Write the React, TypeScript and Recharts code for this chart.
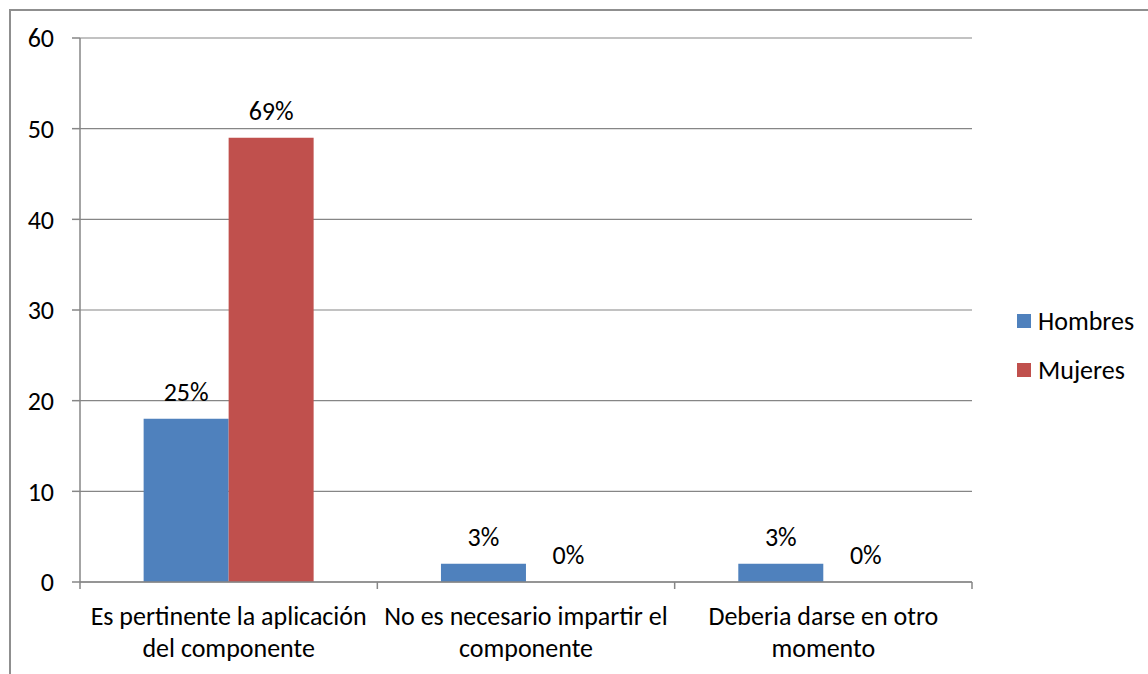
import React from 'react';
import { BarChart, Bar, XAxis, YAxis, CartesianGrid, Legend, LabelList } from 'recharts';

const categories = [
  'Es pertinente la aplicación\ndel componente',
  'No es necesario impartir el\ncomponente',
  'Deberia darse en otro\nmomento',
];
const hombres = [18, 2, 2];
const mujeres = [49, 0, 0];
const hombresPct = ['25%', '3%', '3%'];
const mujeresPct = ['69%', '0%', '0%'];
const yTicks = [0, 10, 20, 30, 40, 50, 60];

const data = categories.map((c, i) => ({
  category: c,
  Hombres: hombres[i],
  Mujeres: mujeres[i],
  hPct: hombresPct[i],
  mPct: mujeresPct[i],
}));

const FONT = 'Carlito, Lato, sans-serif';
const FS = 26;
const AXIS = '#868686';
const BLUE = '#4F81BD';
const RED = '#C0504D';

const CatTick = (props: any) => {
  const { x, y, payload, index } = props;
  const off = payload && typeof payload.offset === 'number' ? payload.offset : 0;
  const lines = String(payload.value).split('\n');
  const last = index === categories.length - 1;
  return (
    <g>
      <line x1={x - off} x2={x - off} y1={y} y2={y + 7} stroke={AXIS} strokeWidth={1.5} />
      {last && <line x1={x + off} x2={x + off} y1={y} y2={y + 7} stroke={AXIS} strokeWidth={1.5} />}
      <text x={x} y={y} textAnchor="middle" fill="#000" fontSize={FS} fontFamily={FONT}>
        {lines.map((l, i) => (
          <tspan key={i} x={x} dy={i === 0 ? 43 : 32}>
            {l}
          </tspan>
        ))}
      </text>
    </g>
  );
};

const PctLabel = (props: any) => {
  const { x, y, width, value } = props;
  return (
    <text x={x + width / 2} y={y - 18} textAnchor="middle" fill="#000" fontSize={FS} fontFamily={FONT}>
      {value}
    </text>
  );
};

const LegendContent = (props: any) => {
  const { payload } = props;
  return (
    <div style={{ fontFamily: FONT, fontSize: FS, color: '#000' }}>
      {(payload || []).map((p: any, i: number) => (
        <div key={i} style={{ display: 'flex', alignItems: 'center', height: 49 }}>
          <div style={{ width: 14, height: 14, background: p.color, marginRight: 7 }} />
          <span>{p.value}</span>
        </div>
      ))}
    </div>
  );
};

export default function App() {
  return (
    <div
      style={{
        position: 'fixed',
        left: 0,
        top: 0,
        width: 1148,
        height: 674,
        background: '#fff',
        overflow: 'hidden',
      }}
    >
      <div
        style={{
          position: 'absolute',
          left: 9,
          top: 9,
          width: 1300,
          height: 800,
          borderLeft: '2px solid #8f8f8f',
          borderTop: '2px solid #8f8f8f',
        }}
      />
      <div style={{ position: 'absolute', left: 0, top: 0 }}>
        <BarChart
          width={1148}
          height={674}
          data={data}
          margin={{ top: 38, right: 45, bottom: 0, left: 0 }}
          barCategoryGap="21.4%"
          barGap={0}
        >
          <CartesianGrid vertical={false} stroke={AXIS} strokeWidth={1.2} />
          <XAxis
            dataKey="category"
            height={92}
            axisLine={{ stroke: AXIS, strokeWidth: 1.5 }}
            tickLine={false}
            tickSize={0}
            tickMargin={0}
            interval={0}
            tick={<CatTick />}
          />
          <YAxis
            width={80}
            domain={[0, 60]}
            ticks={yTicks}
            interval={0}
            axisLine={{ stroke: AXIS, strokeWidth: 1.5 }}
            tickLine={{ stroke: AXIS, strokeWidth: 1.5 }}
            tickSize={8}
            tickMargin={18}
            tick={{ fill: '#000', fontSize: FS, fontFamily: FONT }}
          />
          <Legend
            layout="vertical"
            verticalAlign="top"
            align="right"
            content={<LegendContent />}
            wrapperStyle={{ position: 'absolute', left: 1017, top: 296, width: 131 }}
          />
          <Bar dataKey="Hombres" fill={BLUE} isAnimationActive={false} minPointSize={0.01}>
            <LabelList dataKey="hPct" content={<PctLabel />} />
          </Bar>
          <Bar dataKey="Mujeres" fill={RED} isAnimationActive={false} minPointSize={0.01}>
            <LabelList dataKey="mPct" content={<PctLabel />} />
          </Bar>
        </BarChart>
      </div>
    </div>
  );
}
